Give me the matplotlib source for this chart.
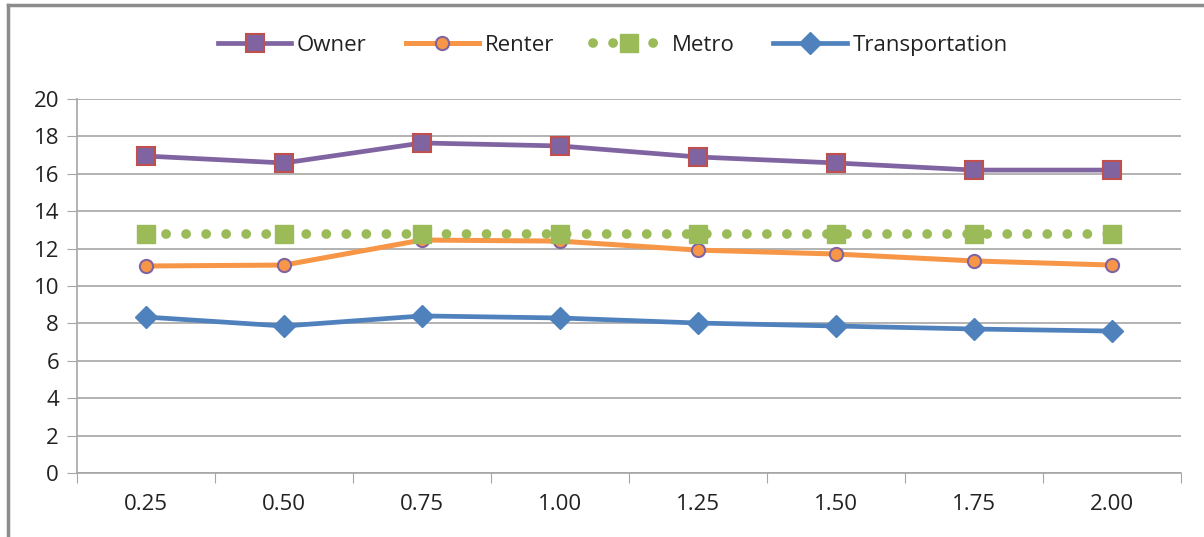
import matplotlib
matplotlib.use("Agg")
import matplotlib.pyplot as plt
from matplotlib.lines import Line2D
import numpy as np

# ── Data ──────────────────────────────────────────────────────────────────
categories = ["0.25", "0.50", "0.75", "1.00", "1.25", "1.50", "1.75", "2.00"]
owner = [16.95, 16.58, 17.65, 17.49, 16.90, 16.58, 16.20, 16.20]
renter = [11.07, 11.12, 12.46, 12.40, 11.92, 11.71, 11.34, 11.12]
metro = [12.78, 12.78, 12.78, 12.78, 12.78, 12.78, 12.78, 12.78]
transportation = [8.34, 7.86, 8.40, 8.29, 8.02, 7.86, 7.70, 7.59]
y_ticks = [0, 2, 4, 6, 8, 10, 12, 14, 16, 18, 20]

# ── Style ─────────────────────────────────────────────────────────────────
plt.rcParams.update({
    "font.family": "Open Sans",
    "font.size": 16,
})
GRID = "#A6A6A6"
PURPLE = "#8064A2"
RED = "#C0504D"
ORANGE = "#F79646"
GREEN = "#9BBB59"
BLUE = "#4F81BD"
TEXT = "#222222"

fig = plt.figure(figsize=(12.04, 5.37), dpi=100)
ax = fig.add_axes([0.064, 0.1192, 0.917, 0.6964])

x = np.arange(len(categories))

ax.plot(x, owner, color=PURPLE, lw=3.4, marker="s", markersize=13,
        markerfacecolor=PURPLE, markeredgecolor=RED, markeredgewidth=1.5,
        label="Owner", zorder=3)
ax.plot(x, renter, color=ORANGE, lw=3.6, marker="o", markersize=9.5,
        markerfacecolor=ORANGE, markeredgecolor=PURPLE, markeredgewidth=1.5,
        label="Renter", zorder=3)
ax.plot(x, metro, color=GREEN, lw=7, linestyle=(0, (0.01, 2.05)),
        dash_capstyle="round", marker="s", markersize=13,
        markerfacecolor=GREEN, markeredgecolor=GREEN,
        label="Metro", zorder=3)
ax.plot(x, transportation, color=BLUE, lw=3.4, marker="D", markersize=11,
        markerfacecolor=BLUE, markeredgecolor=BLUE,
        label="Transportation", zorder=3)

# ── Axes ──────────────────────────────────────────────────────────────────
ax.set_xlim(-0.5, len(categories) - 0.5)
ax.set_ylim(0, 20)
ax.set_yticks(y_ticks)
ax.set_xticks(np.arange(len(categories) + 1) - 0.5)
ax.set_xticklabels([])
ax.set_xticks(x, minor=True)
ax.set_xticklabels(categories, minor=True)
ax.tick_params(axis="x", which="major", length=7, color=GRID, direction="out")
ax.tick_params(axis="x", which="minor", length=0, pad=15, labelsize=16,
               labelcolor=TEXT)
ax.tick_params(axis="y", length=7, color=GRID, direction="out", pad=6,
               labelsize=16, labelcolor=TEXT)
ax.yaxis.grid(True, color=GRID, lw=1.2)
ax.set_axisbelow(True)
for side in ("top", "right"):
    ax.spines[side].set_visible(False)
for side in ("left", "bottom"):
    ax.spines[side].set_color(GRID)
    ax.spines[side].set_linewidth(1.2)

# ── Legend ────────────────────────────────────────────────────────────────
fig.legend(loc="center", bbox_to_anchor=(0.509, 0.916), ncol=4, frameon=False,
           handlelength=3.3, handletextpad=0.25, columnspacing=1.75,
           fontsize=16, labelcolor=TEXT)

# outer frame of the chart area
fig.add_artist(Line2D([0.0066, 1.0], [0.991, 0.991], color="#8C8C8C", lw=2.5,
                      transform=fig.transFigure))
fig.add_artist(Line2D([0.0066, 0.0066], [0.0, 0.991], color="#8C8C8C", lw=2.5,
                      transform=fig.transFigure))

fig.savefig("out.png", dpi=100)
